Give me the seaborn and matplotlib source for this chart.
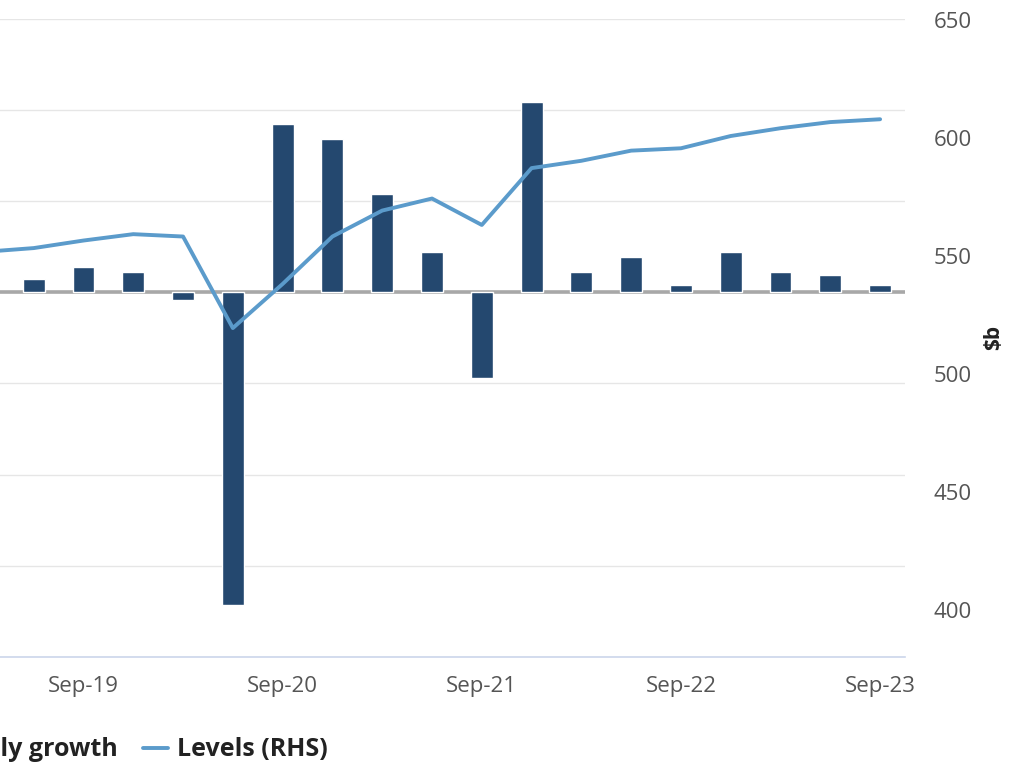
import numpy as np
import pandas as pd
import seaborn as sns
import matplotlib.pyplot as plt
from matplotlib.lines import Line2D

# quarterly GDP: growth (%, left axis, cut off) and levels ($b, right axis)
quarters = ['Mar-19', 'Jun-19', 'Sep-19', 'Dec-19', 'Mar-20', 'Jun-20', 'Sep-20',
            'Dec-20', 'Mar-21', 'Jun-21', 'Sep-21', 'Dec-21', 'Mar-22', 'Jun-22',
            'Sep-22', 'Dec-22', 'Mar-23', 'Jun-23', 'Sep-23']
growth = [np.nan, 0.28, 0.56, 0.45, -0.18, -6.85, 3.68, 3.35, 2.16, 0.89, -1.89,
          4.17, 0.45, 0.77, 0.16, 0.88, 0.45, 0.38, 0.16]
levels = [551.7, 553.3, 556.5, 559.2, 558.2, 519.4, 538.1, 558.2, 569.2, 574.3,
          563.1, 587.2, 590.3, 594.6, 595.6, 600.8, 604.1, 606.7, 607.9]
tick_labels = ['Sep-19', 'Sep-20', 'Sep-21', 'Sep-22', 'Sep-23']
series_names = ['Quarterly growth', 'Levels (RHS)']

BAR = '#24486f'
LINE = '#5b9bcb'
TXT = '#555555'

sns.set_style('white')
plt.rcParams['font.family'] = ['Open Sans', 'DejaVu Sans']

df = pd.DataFrame({'quarter': quarters, 'growth': growth, 'level': levels})

fig = plt.figure(figsize=(10.24, 7.68), dpi=100)
# the chart is cropped on the left, so the axes start off-canvas
ax = fig.add_axes([-41 / 1024, 111 / 768, 946 / 1024, 638.5 / 768])

ax.axhline(0, color='#a8a8a8', lw=2.6, zorder=1)
sns.barplot(data=df, x='quarter', y='growth', order=quarters, color=BAR,
            saturation=1, width=0.44, errorbar=None, edgecolor='white',
            linewidth=1, zorder=2, ax=ax)

ax.set_ylim(-8, 6)
ax.set_yticks(range(-8, 7, 2))
ax.yaxis.grid(True, color='#e6e6e6', lw=1)
ax.set_axisbelow(True)
ax.tick_params(axis='y', left=False, labelleft=False)
ax.set_xticks([quarters.index(t) for t in tick_labels], labels=tick_labels)
ax.tick_params(axis='x', bottom=False, labelsize=16, labelcolor=TXT, pad=10)
ax.set_xlabel('')
ax.set_ylabel('')
for side in ['left', 'right', 'top']:
    ax.spines[side].set_visible(False)
ax.spines['bottom'].set_color('#ccd6eb')
ax.spines['bottom'].set_linewidth(1.2)

ax2 = ax.twinx()
sns.lineplot(x=np.arange(len(quarters)), y=df['level'], color=LINE, lw=2.8,
             sort=False, ax=ax2, zorder=3)
ax.set_xlim(-0.5, len(quarters) - 0.5)
ax2.set_ylim(380, 650.6)
ax2.set_yticks(range(400, 651, 50))
ax2.tick_params(axis='y', right=False, labelsize=16, labelcolor=TXT, pad=17)
ax2.set_ylabel(r'\$b', fontsize=15, fontweight='bold', color='#222222',
               rotation=90, labelpad=8)
for side in ax2.spines:
    ax2.spines[side].set_visible(False)

handles = [Line2D([], [], marker='s', ls='none', color=BAR, markersize=12),
           Line2D([], [], color=LINE, lw=2.8)]
fig.legend(handles, series_names, loc='center right',
           bbox_to_anchor=(350 / 1024, 1 - 750 / 768), ncol=2, frameon=False,
           prop={'weight': 'bold', 'size': 18}, labelcolor='#222222',
           handlelength=1.0, handletextpad=0.35, columnspacing=1.0)

fig.savefig('out.png', dpi=100)
